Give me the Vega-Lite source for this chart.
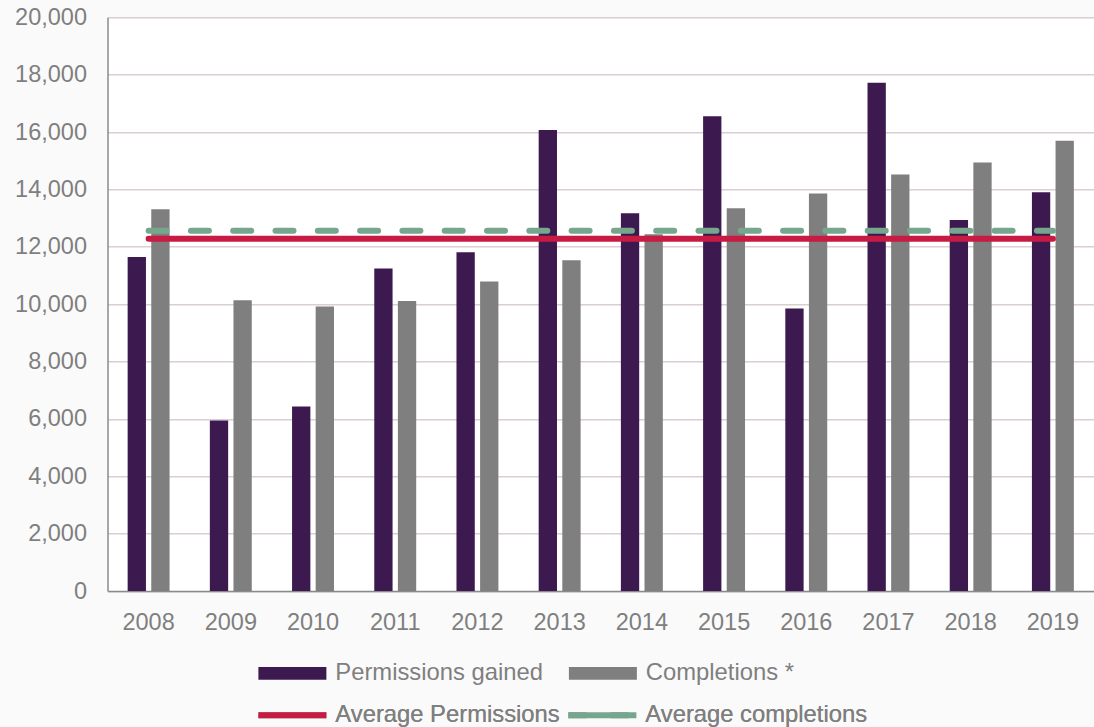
{
  "$schema": "https://vega.github.io/schema/vega-lite/v6.json",
  "width": 986.5,
  "height": 573.7,
  "autosize": {"type": "none"},
  "padding": {"left": 107.5, "top": 17.3, "right": 0, "bottom": 136},
  "background": "#FAFAFA",
  "config": {
    "view": {"fill": "#FFFFFF", "stroke": null},
    "font": "Liberation Sans"
  },
  "datasets": {
    "annual": [
      {"year": "2008", "series": "Permissions gained", "units": 11640},
      {"year": "2008", "series": "Completions *", "units": 13310},
      {"year": "2009", "series": "Permissions gained", "units": 5940},
      {"year": "2009", "series": "Completions *", "units": 10140},
      {"year": "2010", "series": "Permissions gained", "units": 6430},
      {"year": "2010", "series": "Completions *", "units": 9920},
      {"year": "2011", "series": "Permissions gained", "units": 11240},
      {"year": "2011", "series": "Completions *", "units": 10110},
      {"year": "2012", "series": "Permissions gained", "units": 11810},
      {"year": "2012", "series": "Completions *", "units": 10790},
      {"year": "2013", "series": "Permissions gained", "units": 16070},
      {"year": "2013", "series": "Completions *", "units": 11530},
      {"year": "2014", "series": "Permissions gained", "units": 13170},
      {"year": "2014", "series": "Completions *", "units": 12440},
      {"year": "2015", "series": "Permissions gained", "units": 16550},
      {"year": "2015", "series": "Completions *", "units": 13340},
      {"year": "2016", "series": "Permissions gained", "units": 9850},
      {"year": "2016", "series": "Completions *", "units": 13860},
      {"year": "2017", "series": "Permissions gained", "units": 17720},
      {"year": "2017", "series": "Completions *", "units": 14520},
      {"year": "2018", "series": "Permissions gained", "units": 12930},
      {"year": "2018", "series": "Completions *", "units": 14940},
      {"year": "2019", "series": "Permissions gained", "units": 13900},
      {"year": "2019", "series": "Completions *", "units": 15700}
    ],
    "averages": [
      {"year": "2008", "series": "Average Permissions", "units": 12280},
      {"year": "2019", "series": "Average Permissions", "units": 12280},
      {"year": "2008", "series": "Average completions", "units": 12560},
      {"year": "2019", "series": "Average completions", "units": 12560}
    ]
  },
  "resolve": {"scale": {"fill": "independent", "stroke": "independent"}},
  "layer": [
    {
      "data": {"name": "annual"},
      "mark": {"type": "bar"},
      "encoding": {
        "x": {
          "field": "year",
          "type": "nominal",
          "scale": {
            "domain": ["2008", "2009", "2010", "2011", "2012", "2013", "2014", "2015", "2016", "2017", "2018", "2019"],
            "paddingInner": 0.49,
            "paddingOuter": 0.245
          },
          "axis": {
            "title": null,
            "labelAngle": 0,
            "ticks": false,
            "grid": false,
            "labelPadding": 19,
            "labelFontSize": 23.5,
            "labelColor": "#7F7F7F",
            "domainColor": "#8A8A8A",
            "domainWidth": 1.5
          }
        },
        "xOffset": {
          "field": "series",
          "type": "nominal",
          "scale": {"domain": ["Permissions gained", "Completions *"], "paddingInner": 0.225, "paddingOuter": 0}
        },
        "y": {
          "field": "units",
          "type": "quantitative",
          "scale": {"domain": [0, 20000], "nice": false},
          "axis": {
            "title": null,
            "values": [0, 2000, 4000, 6000, 8000, 10000, 12000, 14000, 16000, 18000, 20000],
            "format": ",.0f",
            "ticks": false,
            "labelPadding": 21,
            "labelFontSize": 23.5,
            "labelColor": "#7F7F7F",
            "domainColor": "#8A8A8A",
            "domainWidth": 1.5,
            "gridColor": "#D9CED2",
            "gridWidth": 1.5
          }
        },
        "fill": {
          "field": "series",
          "type": "nominal",
          "scale": {
            "domain": ["Permissions gained", "Completions *"],
            "range": ["#3C1A50", "#7F7F7F"]
          },
          "legend": {
            "title": null,
            "orient": "none",
            "legendX": 145,
            "legendY": 644,
            "columns": 2,
            "columnPadding": 19.5,
            "padding": 0,
            "symbolType": "M-1,-1.06H10.33V1.06H-1Z",
            "symbolSize": 144,
            "symbolStrokeWidth": 0,
            "symbolOpacity": 1,
            "labelOffset": 59,
            "labelLimit": 400,
            "labelFontSize": 23.8,
            "labelColor": "#7F7F7F",
            "labelFont": "Liberation Sans"
          }
        }
      }
    },
    {
      "data": {"name": "averages"},
      "mark": {"type": "line", "strokeWidth": 6, "strokeCap": "round"},
      "encoding": {
        "x": {"field": "year", "type": "nominal"},
        "y": {"field": "units", "type": "quantitative"},
        "stroke": {
          "field": "series",
          "type": "nominal",
          "scale": {
            "domain": ["Average Permissions", "Average completions"],
            "range": ["#C81B43", "#76A78E"]
          },
          "legend": {
            "title": null,
            "orient": "none",
            "legendX": 145,
            "legendY": 686,
            "columns": 2,
            "columnPadding": -5,
            "padding": 0,
            "symbolType": "M-1,0H10.33",
            "symbolSize": 144,
            "symbolStrokeWidth": 6,
            "symbolOpacity": 1,
            "labelOffset": 59,
            "labelLimit": 400,
            "labelFontSize": 23.8,
            "labelColor": "#7F7F7F",
            "labelFont": "Liberation Sans"
          }
        },
        "strokeDash": {
          "field": "series",
          "type": "nominal",
          "scale": {"domain": ["Average Permissions", "Average completions"], "range": [[1, 0], [18, 24.3]]},
          "legend": {
            "title": null,
            "orient": "none",
            "legendX": 145,
            "legendY": 686,
            "columns": 2,
            "columnPadding": -5,
            "padding": 0,
            "symbolType": "M-1,0H10.33",
            "symbolSize": 144,
            "symbolStrokeWidth": 6,
            "symbolOpacity": 1,
            "labelOffset": 59,
            "labelLimit": 400,
            "labelFontSize": 23.8,
            "labelColor": "#7F7F7F",
            "labelFont": "Liberation Sans"
          }
        }
      }
    }
  ]
}
